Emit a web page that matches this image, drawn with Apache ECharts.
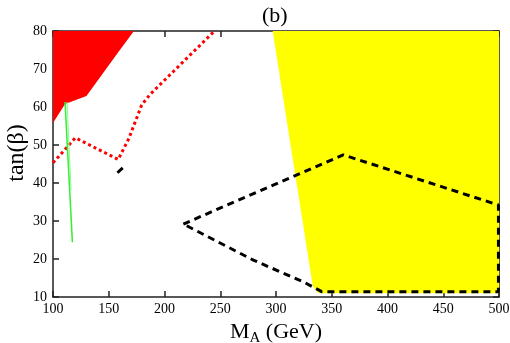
<!DOCTYPE html>
<html><head><meta charset="utf-8">
<script src="https://cdn.jsdelivr.net/npm/echarts@6/dist/echarts.min.js"></script>
<style>html,body{margin:0;padding:0;background:#fff}#c{width:510px;height:343px}</style>
</head><body><div id="c"></div>
<script>
// x ticks / y ticks
const xTicks = [100, 150, 200, 250, 300, 350, 400, 450, 500];
const yTicks = [10, 20, 30, 40, 50, 60, 70, 80];
// yellow excluded region
const yellowX = [297, 333, 338, 500, 500];
const yellowY = [80, 12.8, 11, 11, 80];
// red excluded region
const redX = [100, 100, 110.8, 130, 158, 172.6];
const redY = [80, 55.8, 60.8, 62.9, 74.2, 80];
// red dotted contour
const dotX = [100, 120, 158.5, 168, 179.5, 187, 243.8];
const dotY = [45.3, 51.9, 46.2, 51.7, 60.5, 63.3, 79.7];
// green lines
const green1X = [110.8, 117.4];
const green1Y = [61.3, 24.4];
const green2X = [112.6, 116.2];
const green2Y = [61.3, 38];
// black dashed contour
const dashX = [216.9, 360.3, 499.5, 499.5, 341, 324.5, 279.7, 216.9];
const dashY = [29.2, 47.4, 34.2, 11.4, 11.4, 14.0, 19.7, 29.2];
// short black segment
const segX = [157.8, 162.5];
const segY = [42.7, 44.0];

const zip = (xs, ys) => xs.map((x, i) => [x, ys[i]]);
const FONT = 'Liberation Serif';

function polySeries(xs, ys, color) {
  return {
    type: 'custom', xAxisIndex: 0, yAxisIndex: 0, clip: true,
    data: [0],
    renderItem: function (params, api) {
      const pts = xs.map((x, i) => api.coord([x, ys[i]]));
      return { type: 'polygon', shape: { points: pts }, style: { fill: color, stroke: null } };
    },
    silent: true, z: 1
  };
}
function lineSeries(xs, ys, color, width, type, z) {
  return {
    type: 'line', xAxisIndex: 0, yAxisIndex: 0, data: zip(xs, ys),
    showSymbol: false, symbol: 'none', silent: true, z: z || 3,
    lineStyle: { color: color, width: width, type: type }
  };
}

const axisCommon = {
  type: 'value',
  axisLine: { show: true, onZero: false, lineStyle: { color: '#222', width: 1.5 } },
  axisTick: { show: true, inside: true, length: 6, lineStyle: { color: '#222', width: 1.5 } },
  splitLine: { show: false }
};

const chart = echarts.init(document.getElementById('c'), null, { renderer: 'canvas' });
chart.setOption({
  animation: false,
  backgroundColor: '#fff',
  title: { text: '(b)', left: 257, top: 0, textStyle: { fontFamily: FONT, fontSize: 22, fontWeight: 'normal', color: '#000' } },
  grid: { left: 53, right: 11, top: 31, bottom: 46, containLabel: false, outerBoundsMode: 'none' },
  graphic: [{
    type: 'text', x: 17, y: 153, rotation: Math.PI / 2, silent: true,
    style: { text: 'tan(β)', fontFamily: FONT, fontSize: 24, fill: '#000', align: 'center', verticalAlign: 'middle' }
  }],
  xAxis: [
    Object.assign({}, axisCommon, {
      position: 'bottom', min: xTicks[0], max: xTicks[xTicks.length - 1], interval: 50,
      axisLabel: { show: true, color: '#000', fontFamily: FONT, fontSize: 14, margin: 5 },
      name: '{m|M}{s|A}{m| (GeV)}', nameLocation: 'middle', nameGap: 16,
      nameTextStyle: {
        color: '#000', fontFamily: FONT,
        rich: {
          m: { fontFamily: FONT, fontSize: 22, color: '#000' },
          s: { fontFamily: FONT, fontSize: 15, color: '#000', padding: [12, 0, 0, 0] }
        }
      }
    }),
    Object.assign({}, axisCommon, {
      position: 'top', min: xTicks[0], max: xTicks[xTicks.length - 1], interval: 50,
      axisLabel: { show: false }
    })
  ],
  yAxis: [
    Object.assign({}, axisCommon, {
      position: 'left', min: yTicks[0], max: yTicks[yTicks.length - 1], interval: 10,
      axisLabel: { show: true, color: '#000', fontFamily: FONT, fontSize: 14, margin: 6 }
    }),
    Object.assign({}, axisCommon, {
      position: 'right', min: yTicks[0], max: yTicks[yTicks.length - 1], interval: 10,
      axisLabel: { show: false }
    })
  ],
  series: [
    polySeries(yellowX, yellowY, '#ffff00'),
    polySeries(redX, redY, '#ff0000'),
    lineSeries(dotX, dotY, '#ff0000', 3, [3, 3], 4),
    lineSeries(green1X, green1Y, '#33ee33', 1.5, 'solid', 4),
    lineSeries(green2X, green2Y, '#88ff88', 1, 'solid', 4),
    lineSeries(dashX, dashY, '#000', 3, [7, 5], 5),
    lineSeries(segX, segY, '#000', 3, 'solid', 5)
  ]
});
</script>
</body></html>
